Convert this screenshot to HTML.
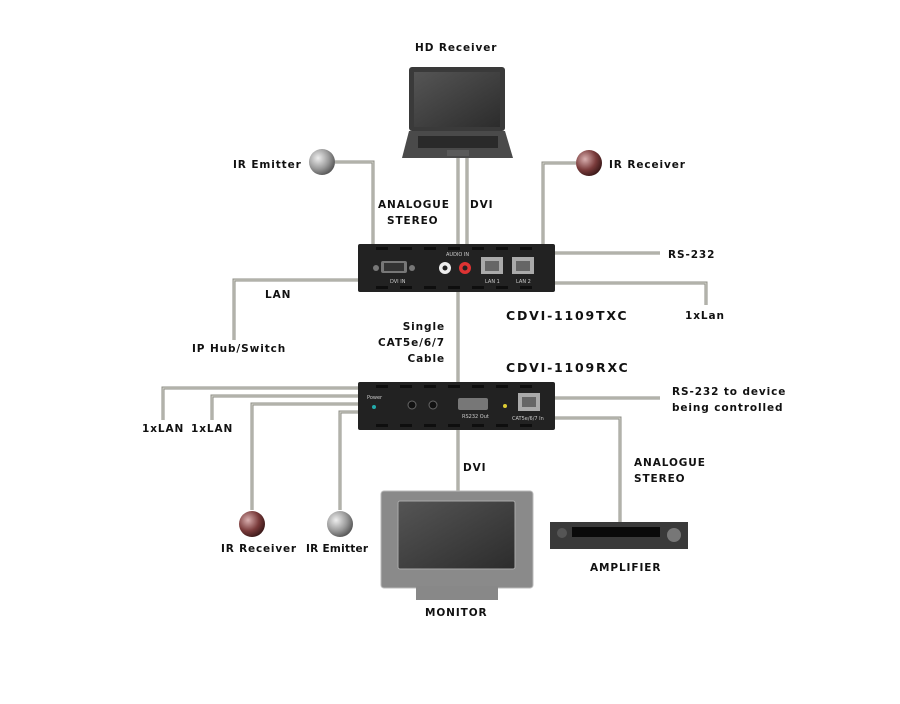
<!DOCTYPE html>
<html><head><meta charset="utf-8"><style>
html,body{margin:0;padding:0;background:#fff;}
svg{display:block}
text{font-family:"DejaVu Sans","Liberation Sans",sans-serif;font-weight:bold;font-size:10.5px;fill:#111;letter-spacing:0.9px}
.s{font-size:5px;font-weight:normal;letter-spacing:0;fill:#ccc}
</style></head><body>
<svg width="900" height="704" viewBox="0 0 900 704" xmlns="http://www.w3.org/2000/svg">
<defs>
<radialGradient id="gball" cx="0.35" cy="0.35" r="0.7"><stop offset="0" stop-color="#eee"/><stop offset="0.6" stop-color="#999"/><stop offset="1" stop-color="#555"/></radialGradient>
<radialGradient id="rball" cx="0.35" cy="0.35" r="0.7"><stop offset="0" stop-color="#d9b0b0"/><stop offset="0.6" stop-color="#7a3b3b"/><stop offset="1" stop-color="#3a1818"/></radialGradient>
<linearGradient id="scr" x1="0" y1="0" x2="1" y2="1"><stop offset="0" stop-color="#555"/><stop offset="1" stop-color="#2c2c2c"/></linearGradient>
</defs>
<g fill="none" stroke="#8c8c84" stroke-width="3">
<path d="M458 158V244M467 158V244M335 162H373V244M576 163H543V244M555 253H660M358 280H234V340M555 283H706V305M458 292V382M358 388H163V420M358 396H212V420M358 404H252V510M358 412H340V510M555 398H660M555 418H620V522M458 430V492"/>
</g>
<g fill="none" stroke="#d8d8d0" stroke-width="1">
<path d="M458 158V244M467 158V244M335 162H373V244M576 163H543V244M555 253H660M358 280H234V340M555 283H706V305M458 292V382M358 388H163V420M358 396H212V420M358 404H252V510M358 412H340V510M555 398H660M555 418H620V522M458 430V492"/>
</g>
<rect x="409" y="67" width="96" height="64" rx="3" fill="#3a3a3a"/>
<rect x="414" y="72" width="86" height="55" fill="url(#scr)"/>
<path d="M409 131H505L513 158H402Z" fill="#4a4a4a"/>
<rect x="418" y="136" width="80" height="12" fill="#2a2a2a"/>
<rect x="447" y="150" width="22" height="6" fill="#5a5a5a"/>
<circle cx="322" cy="162" r="13" fill="url(#gball)"/>
<circle cx="589" cy="163" r="13" fill="url(#rball)"/>
<circle cx="252" cy="524" r="13" fill="url(#rball)"/>
<circle cx="340" cy="524" r="13" fill="url(#gball)"/>
<rect x="358" y="244" width="197" height="48" rx="2" fill="#222"/>
<g fill="#0e0e0e"><rect x="376" y="247" width="12" height="3"/><rect x="400" y="247" width="12" height="3"/><rect x="424" y="247" width="12" height="3"/><rect x="448" y="247" width="12" height="3"/><rect x="472" y="247" width="12" height="3"/><rect x="496" y="247" width="12" height="3"/><rect x="520" y="247" width="12" height="3"/>
<rect x="376" y="286" width="12" height="3"/><rect x="400" y="286" width="12" height="3"/><rect x="424" y="286" width="12" height="3"/><rect x="448" y="286" width="12" height="3"/><rect x="472" y="286" width="12" height="3"/><rect x="496" y="286" width="12" height="3"/><rect x="520" y="286" width="12" height="3"/></g>
<rect x="381" y="261" width="26" height="12" rx="2" fill="#777"/><rect x="384" y="263" width="20" height="8" fill="#333"/>
<circle cx="376" cy="268" r="3" fill="#777"/><circle cx="412" cy="268" r="3" fill="#777"/>
<circle cx="445" cy="268" r="6" fill="#eee"/><circle cx="445" cy="268" r="2.5" fill="#222"/>
<circle cx="465" cy="268" r="6" fill="#d33"/><circle cx="465" cy="268" r="2.5" fill="#222"/>
<rect x="481" y="257" width="22" height="17" fill="#aaa"/><rect x="485" y="261" width="14" height="10" fill="#666"/>
<rect x="512" y="257" width="22" height="17" fill="#aaa"/><rect x="516" y="261" width="14" height="10" fill="#666"/>
<text class="s" x="390" y="283">DVI IN</text><text class="s" x="446" y="256">AUDIO IN</text><text class="s" x="485" y="283">LAN 1</text><text class="s" x="516" y="283">LAN 2</text>
<rect x="358" y="382" width="197" height="48" rx="2" fill="#222"/>
<g fill="#0e0e0e"><rect x="376" y="385" width="12" height="3"/><rect x="400" y="385" width="12" height="3"/><rect x="424" y="385" width="12" height="3"/><rect x="448" y="385" width="12" height="3"/><rect x="472" y="385" width="12" height="3"/><rect x="496" y="385" width="12" height="3"/><rect x="520" y="385" width="12" height="3"/>
<rect x="376" y="424" width="12" height="3"/><rect x="400" y="424" width="12" height="3"/><rect x="424" y="424" width="12" height="3"/><rect x="448" y="424" width="12" height="3"/><rect x="472" y="424" width="12" height="3"/><rect x="496" y="424" width="12" height="3"/><rect x="520" y="424" width="12" height="3"/></g>
<circle cx="374" cy="407" r="2" fill="#2aa"/>
<circle cx="412" cy="405" r="4" fill="#111" stroke="#666"/><circle cx="433" cy="405" r="4" fill="#111" stroke="#666"/>
<rect x="458" y="398" width="30" height="12" rx="2" fill="#777"/>
<circle cx="505" cy="406" r="2" fill="#dc3"/>
<rect x="518" y="393" width="22" height="18" fill="#aaa"/><rect x="522" y="397" width="14" height="10" fill="#666"/>
<text class="s" x="367" y="399">Power</text><text class="s" x="462" y="418">RS232 Out</text><text class="s" x="512" y="420">CAT5e/6/7 In</text>
<rect x="381" y="491" width="152" height="97" rx="3" fill="#8a8a8a" stroke="#bbb"/>
<rect x="398" y="501" width="117" height="68" rx="2" fill="url(#scr)" stroke="#aaa"/>
<rect x="416" y="586" width="82" height="14" fill="#888"/>
<rect x="550" y="522" width="138" height="27" fill="#3a3a3a"/>
<rect x="572" y="527" width="88" height="10" fill="#0a0a0a"/>
<circle cx="562" cy="533" r="5" fill="#555"/><circle cx="674" cy="535" r="7" fill="#777"/>
<text x="415" y="51">HD Receiver</text>
<text x="233" y="168">IR Emitter</text>
<text x="609" y="168">IR Receiver</text>
<text x="378" y="208">ANALOGUE</text>
<text x="387" y="224">STEREO</text>
<text x="470" y="208">DVI</text>
<text x="668" y="258">RS-232</text>
<text x="265" y="298">LAN</text>
<text x="685" y="319">1xLan</text>
<text x="192" y="352">IP Hub/Switch</text>
<text x="506" y="320" style="font-size:12.5px;letter-spacing:1.8px">CDVI-1109TXC</text>
<text x="506" y="372" style="font-size:12.5px;letter-spacing:1.8px">CDVI-1109RXC</text>
<text x="445" y="330" text-anchor="end">Single</text>
<text x="445" y="346" text-anchor="end">CAT5e/6/7</text>
<text x="445" y="362" text-anchor="end">Cable</text>
<text x="672" y="395">RS-232 to device</text>
<text x="672" y="411">being controlled</text>
<text x="142" y="432">1xLAN</text>
<text x="191" y="432">1xLAN</text>
<text x="463" y="471">DVI</text>
<text x="634" y="466">ANALOGUE</text>
<text x="634" y="482">STEREO</text>
<text x="221" y="552" textLength="76">IR Receiver</text>
<text x="306" y="552" textLength="63">IR Emitter</text>
<text x="590" y="571">AMPLIFIER</text>
<text x="425" y="616">MONITOR</text>
</svg>
</body></html>
